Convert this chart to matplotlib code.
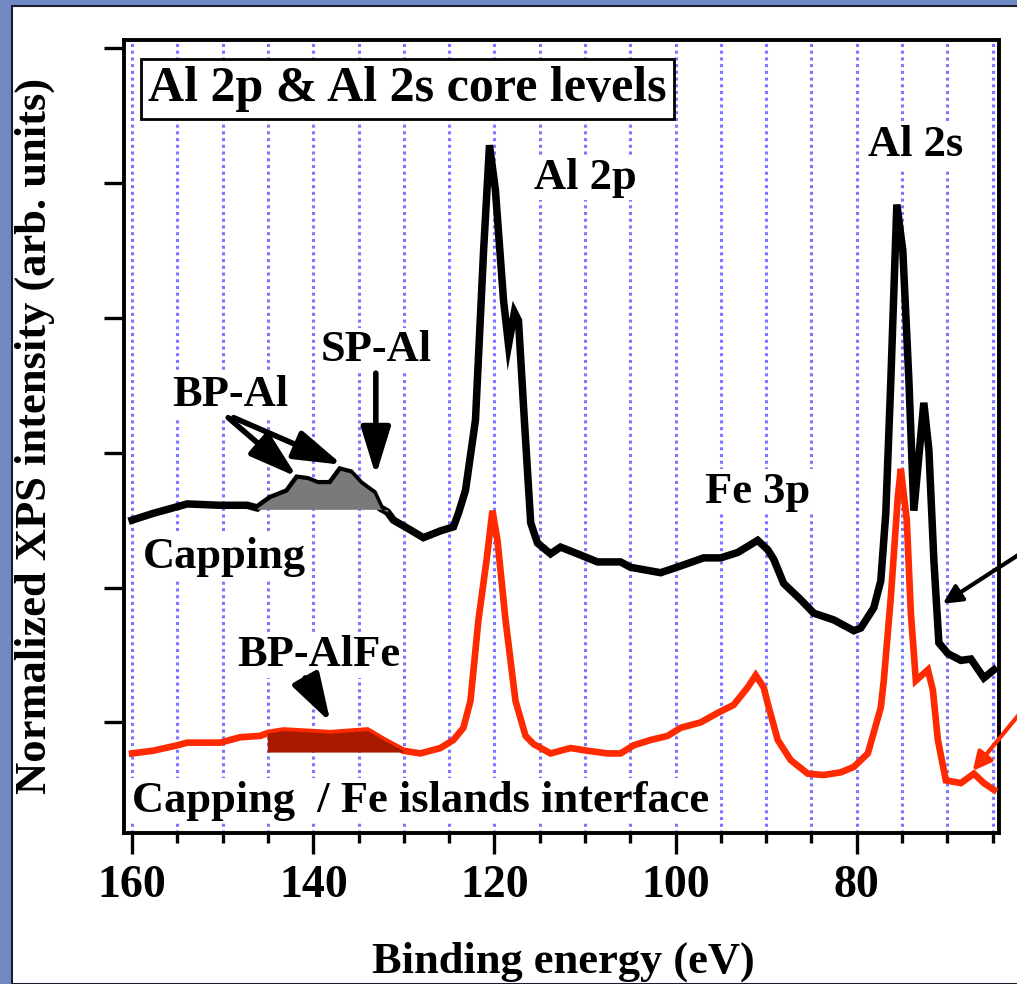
import matplotlib
matplotlib.use("Agg")
import matplotlib.pyplot as plt
from matplotlib.patches import Rectangle
import numpy as np

# Capping (black) - binding energy (eV) / intensity (arb. units)
ev_capping = [160.0, 157.68, 153.92, 150.28, 147.29, 146.19, 144.75, 142.87, 141.77, 140.66,
              139.56, 138.12, 137.02, 135.91, 134.81, 133.37, 132.60, 131.82, 131.16, 129.61,
              127.85, 125.97, 124.53, 123.98, 123.2, 122.1, 121.2, 120.55, 119.9, 119.0,
              118.45, 117.8, 117.35, 116.7, 116.0, 115.25, 113.81, 112.71, 110.83, 108.62,
              106.08, 104.97, 101.66, 99.45, 96.91, 95.03, 93.15, 90.94, 89.83, 89.17,
              88.07, 86.19, 84.75, 82.54, 80.33, 79.56, 78.12, 77.35, 76.80, 76.24,
              75.58, 74.92, 74.25, 73.70, 72.60, 72.04, 71.49, 70.94, 69.94, 68.51,
              67.40, 65.97, 64.86]
int_capping = [1.50, 1.55, 1.62, 1.61, 1.61, 1.59, 1.66, 1.71, 1.81, 1.80,
               1.77, 1.77, 1.87, 1.85, 1.77, 1.70, 1.59, 1.56, 1.50, 1.44,
               1.37, 1.42, 1.45, 1.55, 1.72, 2.24, 3.50, 4.28, 3.95, 3.13,
               2.80, 3.04, 2.98, 2.24, 1.48, 1.33, 1.25, 1.30, 1.25, 1.19,
               1.19, 1.15, 1.11, 1.16, 1.22, 1.22, 1.26, 1.35, 1.28, 1.21,
               1.03, 0.91, 0.81, 0.76, 0.68, 0.70, 0.85, 1.05, 1.55, 2.54,
               3.84, 3.50, 2.54, 1.57, 2.37, 2.02, 1.20, 0.59, 0.51, 0.46,
               0.47, 0.33, 0.39]

# Capping / Fe islands interface (red)
ev_interface = [160.0, 157.68, 155.03, 153.92, 150.28, 148.07, 145.86, 145.08, 143.31, 140.66,
                138.12, 134.03, 132.27, 130.06, 128.18, 125.97, 124.53, 123.43, 122.65, 121.77,
                120.88, 120.22, 119.67, 118.78, 117.68, 116.57, 115.69, 113.81, 111.60, 109.72,
                107.51, 106.08, 104.64, 102.76, 100.88, 99.45, 97.24, 95.36, 93.59, 92.04,
                91.16, 90.28, 89.83, 88.73, 87.29, 85.41, 83.65, 81.77, 80.33, 78.78,
                77.35, 77.02, 76.24, 75.47, 75.14, 74.48, 74.03, 73.48, 72.15, 71.60,
                71.05, 70.17, 68.51, 67.07, 65.97, 64.86]
int_interface = [-0.23, -0.21, -0.17, -0.15, -0.15, -0.11, -0.10, -0.08, -0.06, -0.07,
                 -0.08, -0.06, -0.13, -0.21, -0.23, -0.19, -0.13, -0.04, 0.16, 0.76,
                 1.20, 1.57, 1.35, 0.76, 0.16, -0.10, -0.16, -0.23, -0.19, -0.21,
                 -0.23, -0.23, -0.17, -0.13, -0.10, -0.04, 0.00, 0.07, 0.13, 0.26,
                 0.35, 0.26, 0.14, -0.13, -0.28, -0.38, -0.39, -0.37, -0.33, -0.23,
                 0.11, 0.31, 0.93, 1.67, 1.88, 1.50, 0.81, 0.31, 0.39, 0.24,
                 -0.13, -0.43, -0.45, -0.38, -0.45, -0.50]

x_major = [160, 140, 120, 100, 80]
x_minor = [155, 150, 145, 135, 130, 125, 115, 110, 105, 95, 90, 85, 75, 70, 65]
x_grid = x_major + x_minor
y_ticks = [0, 1, 2, 3, 4, 5]

# shaded components: (high eV, low eV, baseline)
bp_al = (146.19, 131.82, 1.58)
bp_alfe = (145.08, 130.06, -0.22)

plt.rcParams['font.family'] = ['Liberation Serif', 'DejaVu Serif']
plt.rcParams['font.weight'] = 'bold'

fig = plt.figure(figsize=(10.17, 9.84), dpi=100)
fig.patch.set_facecolor('#7189c3')
fig.patches.append(Rectangle((12 / 1017, 0), 1, 1 - 6 / 984, transform=fig.transFigure,
                             facecolor='white', edgecolor='#1c1c30', lw=1.5, zorder=-10))

ax = fig.add_axes([124 / 1017, 1 - 833 / 984, 875 / 1017, 793 / 984])
ax.set_zorder(1)
ax.set_facecolor('white')
ax.set_xlim(160.9, 64.3)
ax.set_ylim(-0.82, 5.06)

for g in x_grid:
    ax.axvline(g, color='#7878ff', lw=2.2, ls=(0, (1, 1.2)), zorder=1)

ev_c = np.array(ev_capping)
in_c = np.array(int_capping)
ev_i = np.array(ev_interface)
in_i = np.array(int_interface)

ax.plot(ev_c, in_c, color='black', lw=5.4, zorder=3, solid_joinstyle='miter')
ax.plot(ev_i, in_i, color='#ff2a00', lw=4.8, zorder=3, solid_joinstyle='miter')

m = (ev_c <= bp_al[0]) & (ev_c >= bp_al[1])
ax.fill_between(ev_c[m], bp_al[2], in_c[m], color='#7a7a7a', lw=0, zorder=4)
m = (ev_i <= bp_alfe[0]) & (ev_i >= bp_alfe[1])
ax.fill_between(ev_i[m], bp_alfe[2], in_i[m], color='#a81a00', lw=0, zorder=4)

for s in ax.spines.values():
    s.set_linewidth(2.8)
ax.set_xticks(x_major)
ax.set_xticks(x_minor, minor=True)
ax.set_yticks(y_ticks)
ax.set_yticklabels([])
ax.tick_params(axis='x', which='major', direction='out', length=15, width=2.4,
               labelsize=33, pad=8)
ax.tick_params(axis='x', which='minor', direction='out', length=7.5, width=2.4)
ax.tick_params(axis='y', direction='out', length=14.5, width=2.4)

wb = dict(facecolor='white', edgecolor='none', pad=2)
ax.text(158.2, 4.70, 'Al 2p & Al 2s core levels', fontsize=36, ha='left', va='center',
        bbox=dict(facecolor='white', edgecolor='black', lw=2, pad=5), zorder=5)
ax.text(110.0, 4.04, 'Al 2p', fontsize=32, ha='center', va='center', bbox=wb, zorder=5)
ax.text(73.5, 4.28, 'Al 2s', fontsize=32, ha='center', va='center', bbox=wb, zorder=5)
ax.text(133.1, 2.76, 'SP-Al', fontsize=32, ha='center', va='center', bbox=wb, zorder=5)
ax.text(149.2, 2.43, 'BP-Al', fontsize=32, ha='center', va='center', bbox=wb, zorder=5)
ax.text(90.9, 1.71, 'Fe 3p', fontsize=32, ha='center', va='center', bbox=wb, zorder=5)
ax.text(158.8, 1.23, 'Capping', fontsize=32, ha='left', va='center', bbox=wb, zorder=5)
ax.text(139.4, 0.50, 'BP-AlFe', fontsize=32, ha='center', va='center', bbox=wb, zorder=5)
ax.text(160.0, -0.58, 'Capping  / Fe islands interface', fontsize=32, ha='left', va='center',
        bbox=wb, zorder=5)

big = dict(arrowstyle='-|>,head_length=0.65,head_width=0.2', color='black', lw=4.0,
           mutation_scale=45, shrinkA=0, shrinkB=0)
ax.annotate('', xy=(141.8, 1.82), xytext=(149.4, 2.26), arrowprops=big, zorder=6)
ax.annotate('', xy=(136.8, 1.91), xytext=(148.8, 2.26), arrowprops=big, zorder=6)
ax.annotate('', xy=(133.1, 1.83), xytext=(133.1, 2.59), arrowprops=big, zorder=6)
ax.annotate('', xy=(138.1, 0.0), xytext=(140.9, 0.33), arrowprops=big, zorder=6)
ax.annotate('', xy=(70.5, 0.88), xytext=(62.2, 1.24), annotation_clip=False, zorder=6,
            arrowprops=dict(arrowstyle='-|>', color='black', lw=3, mutation_scale=28,
                            shrinkA=0, shrinkB=0))
ax.annotate('', xy=(67.2, -0.36), xytext=(62.2, 0.05), annotation_clip=False, zorder=6,
            arrowprops=dict(arrowstyle='-|>', color='#ff2a00', lw=3, mutation_scale=28,
                            shrinkA=0, shrinkB=0))

fig.text(563 / 1017, 1 - 962 / 984, 'Binding energy (eV)', fontsize=32, ha='center', va='center')
fig.text(35 / 1017, 1 - 436 / 984, 'Normalized XPS intensity (arb. units)', fontsize=32,
         rotation=90, ha='center', va='center')

fig.savefig('out.png', dpi=100, facecolor=fig.get_facecolor())
